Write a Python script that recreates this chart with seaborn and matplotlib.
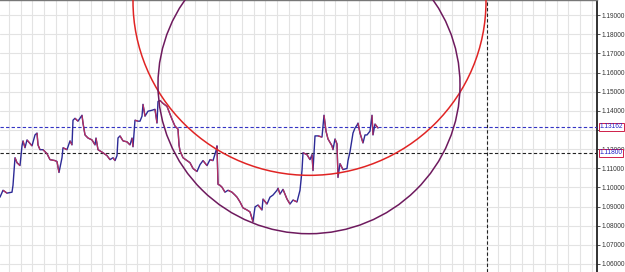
import numpy as np
import pandas as pd
import matplotlib
matplotlib.use("Agg")
import matplotlib.pyplot as plt
import matplotlib.transforms as mtransforms
from matplotlib.collections import LineCollection
from matplotlib.patches import Ellipse
from matplotlib.ticker import FixedLocator, NullFormatter
import seaborn as sns

# ---------------- data ----------------
bar_index = [0, 3, 7, 12, 13, 15, 17, 20, 22, 23, 25, 27, 32, 35, 37, 38, 40, 43, 47, 50,
             55, 57, 59, 62, 63, 67, 70, 72, 73, 75, 78, 82, 83, 85, 88, 92, 95, 96, 98, 103,
             107, 110, 113, 115, 117, 118, 120, 123, 127, 130, 132, 133, 135, 138, 140, 142, 143, 145, 148, 152,
             155, 157, 158, 160, 163, 167, 170, 172, 175, 178, 179, 180, 183, 187, 190, 193, 197, 200, 203, 207,
             210, 213, 216, 217, 218, 220, 222, 225, 228, 232, 235, 237, 240, 243, 247, 250, 253, 255, 258, 262,
             263, 267, 270, 273, 277, 278, 280, 283, 287, 290, 293, 297, 300, 302, 303, 307, 310, 312, 313, 315,
             318, 322, 324, 326, 328, 332, 333, 335, 337, 338, 340, 343, 347, 348, 350, 353, 355, 357, 358, 360,
             363, 365, 367, 370, 372, 373, 375, 378]
price = [1.0949, 1.0985, 1.0970, 1.0975, 1.1011, 1.1155, 1.1129, 1.1114, 1.1217, 1.1243, 1.1207, 1.1248, 1.1217, 1.1274, 1.1284, 1.1222, 1.1197, 1.1197, 1.1176, 1.1145,
         1.1140, 1.1135, 1.1078, 1.1155, 1.1207, 1.1197, 1.1243, 1.1222, 1.1351, 1.1361, 1.1346, 1.1377, 1.1336, 1.1274, 1.1258, 1.1248, 1.1222, 1.1258, 1.1197, 1.1181,
         1.1166, 1.1145, 1.1155, 1.1140, 1.1166, 1.1258, 1.1269, 1.1243, 1.1238, 1.1222, 1.1258, 1.1212, 1.1351, 1.1346, 1.1346, 1.1372, 1.1434, 1.1372, 1.1398, 1.1403,
         1.1408, 1.1336, 1.1449, 1.1454, 1.1439, 1.1423, 1.1382, 1.1356, 1.1320, 1.1305, 1.1222, 1.1191, 1.1155, 1.1140, 1.1129, 1.1099, 1.1083, 1.1119, 1.1140, 1.1114,
         1.1145, 1.1140, 1.1191, 1.1217, 1.1016, 1.1011, 1.1001, 1.0975, 1.0985, 1.0975, 1.0960, 1.0949, 1.0924, 1.0893, 1.0882, 1.0872, 1.0821, 1.0898, 1.0908, 1.0882,
         1.0939, 1.0913, 1.0949, 1.0960, 1.0985, 1.0996, 1.0965, 1.0990, 1.0939, 1.0913, 1.0934, 1.0924, 1.0985, 1.1088, 1.1181, 1.1171, 1.1145, 1.1171, 1.1088, 1.1269,
         1.1269, 1.1263, 1.1377, 1.1294, 1.1253, 1.1217, 1.1197, 1.1253, 1.1227, 1.1052, 1.1124, 1.1093, 1.1099, 1.1140, 1.1186, 1.1284, 1.1310, 1.1325, 1.1336, 1.1284,
         1.1232, 1.1274, 1.1274, 1.1294, 1.1377, 1.1274, 1.1331, 1.1310]

level_prices = [1.13162, 1.11800]
level_labels = ["1.13162", "1.11800"]
level_colors = ["#3434c4", "#222222"]

ytick_values = [1.06, 1.07, 1.08, 1.09, 1.10, 1.11, 1.12, 1.13, 1.14, 1.15, 1.16, 1.17, 1.18, 1.19]
ytick_labels = [f"{v:.5f}" for v in ytick_values]

# circles: centre (bar, price) and radii (bars, price)
red_circle_center = (309.5, 1.1972)
red_circle_radius = (176.5, 0.0909)
purple_circle_center = (309.0, 1.1536)
purple_circle_radius = (151.0, 0.0778)

vline_bar = 486.7
x_range = (0, 597)
y_range = (1.0558, 1.1979)

# ---------------- plot ----------------
sns.set_style("white")
plt.rcParams['font.family'] = ['Liberation Sans', 'DejaVu Sans']

fig = plt.figure(figsize=(6.25, 2.72), dpi=100)
ax = fig.add_axes([0, 0, 597 / 625, 1])
ax.set_facecolor("white")

df = pd.DataFrame({"bar": bar_index, "price": price})

# grid
ax.xaxis.set_major_locator(FixedLocator(np.arange(9.05, x_range[1], 11.65)))
ax.xaxis.set_major_formatter(NullFormatter())
ax.yaxis.set_major_locator(FixedLocator(ytick_values))
ax.grid(True, color="#e3e3e3", lw=0.8)
ax.set_axisbelow(True)

# price series (base line) + down-moves in red
sns.lineplot(data=df, x="bar", y="price", ax=ax, color="#2c2a96", lw=1.0, zorder=4)
xs = np.asarray(bar_index, float)
ys = np.asarray(price, float)
segs = np.stack([np.column_stack([xs[:-1], ys[:-1]]), np.column_stack([xs[1:], ys[1:]])], axis=1)
down = ys[1:] < ys[:-1]
ax.add_collection(LineCollection(segs[down], colors="#b8305e", lw=0.9, zorder=5))

# horizontal levels
for p, c in zip(level_prices, level_colors):
    ax.axhline(p, color=c, lw=0.8, ls=(0, (3, 2)), zorder=3)

# vertical dashed line
ax.axvline(vline_bar, color="#222222", lw=0.8, ls=(0, (3, 2)), zorder=3)

# circles
ax.add_patch(Ellipse(red_circle_center, 2 * red_circle_radius[0], 2 * red_circle_radius[1],
                     fill=False, ec="#e02424", lw=1.1, zorder=6))
ax.add_patch(Ellipse(purple_circle_center, 2 * purple_circle_radius[0], 2 * purple_circle_radius[1],
                     fill=False, ec="#6e1a5e", lw=1.1, zorder=6))

ax.set_xlim(*x_range)
ax.set_ylim(*y_range)
ax.set_xlabel("")
ax.set_ylabel("")

# axis on the right
ax.yaxis.tick_right()
ax.set_yticklabels(ytick_labels)
ax.tick_params(axis="y", which="both", right=True, left=False, direction="out",
               length=2.5, width=0.6, pad=0.8, labelsize=4.7, labelcolor="#333333", color="#333333")
ax.tick_params(axis="x", bottom=False, top=False)

for side in ["left", "bottom"]:
    ax.spines[side].set_visible(False)
ax.spines["right"].set_color("#222222")
ax.spines["right"].set_linewidth(1.3)
ax.spines["top"].set_color("#777777")
ax.spines["top"].set_linewidth(1.0)

# level label boxes on the axis
trans = mtransforms.blended_transform_factory(ax.transAxes, ax.transData)
for p, lab in zip(level_prices, level_labels):
    ax.text(1.0045, p, lab, transform=trans, ha="left", va="center", fontsize=4.7,
            color="#2020c8", clip_on=False, zorder=10,
            bbox=dict(boxstyle="square,pad=0.12", fc="white", ec="#d0204a", lw=0.7))

fig.savefig("out.png", dpi=100)
